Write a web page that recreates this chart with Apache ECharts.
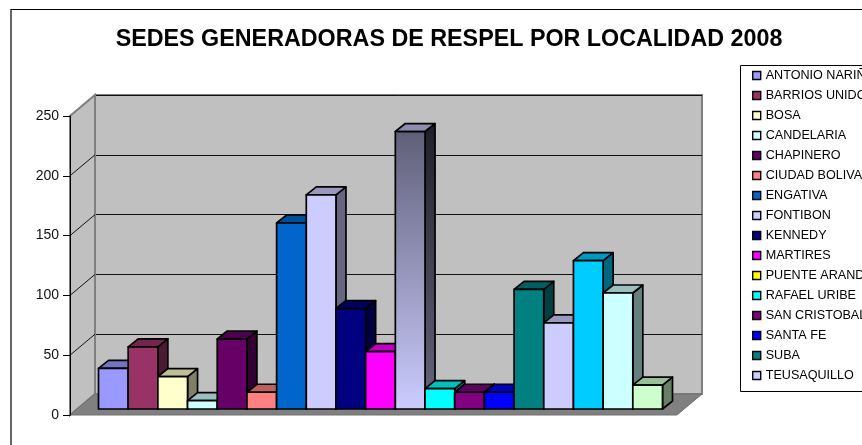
<!DOCTYPE html>
<html>
<head>
<meta charset="utf-8">
<style>html,body{margin:0;padding:0;background:#fff}#main{width:862px;height:445px}</style>
<script src="https://cdn.jsdelivr.net/npm/echarts@6/dist/echarts.min.js"></script>
</head>
<body>
<div id="main"></div>
<script>
var titleText = 'SEDES GENERADORAS DE RESPEL POR LOCALIDAD 2008';
// the legend in the picture is cut after TEUSAQUILLO, the last 3 bars have no entry
var localidades = ['ANTONIO NARIÑO', 'BARRIOS UNIDOS', 'BOSA', 'CANDELARIA', 'CHAPINERO', 'CIUDAD BOLIVAR', 'ENGATIVA', 'FONTIBON', 'KENNEDY', 'MARTIRES', 'PUENTE ARANDA', 'RAFAEL URIBE', 'SAN CRISTOBAL', 'SANTA FE', 'SUBA', 'TEUSAQUILLO', 'TUNJUELITO', 'USAQUEN', 'USME'];
var sedes = [34, 52, 27, 7, 58.5, 14, 155.5, 179, 84, 48, 232, 17, 14, 14, 100, 72, 124, 97, 20];
var colores = ['#9999ff', '#993366', '#ffffcc', '#ccffff', '#660066', '#ff8080', '#0066cc', '#ccccff', '#000080', '#ff00ff', '#ffff00', '#00ffff', '#800080', '#0000ff', '#008080', '#ccccff', '#00ccff', '#ccffff', '#ccffcc'];
var legendItems = localidades.slice(0, 16);
var yTicks = [0, 50, 100, 150, 200, 250];

var wallDepth = [25, -21];
var barDepth = [10, -8];
var PUENTE = 10;

var chart = echarts.init(document.getElementById('main'));

function shade(hex, f) {
  var n = parseInt(hex.slice(1), 16);
  var r = Math.round((n >> 16 & 255) * f);
  var g = Math.round((n >> 8 & 255) * f);
  var b = Math.round((n & 255) * f);
  return 'rgb(' + r + ',' + g + ',' + b + ')';
}

function vGrad(top, bottom) {
  return new echarts.graphic.LinearGradient(0, 0, 0, 1, [
    { offset: 0, color: top },
    { offset: 1, color: bottom }
  ]);
}

// one 3d box: front, top and side faces
function renderBar(params, api) {
  var i = api.value(0);
  var top = api.coord([i, api.value(1)]);
  var base = api.coord([i, 0]);
  var w = api.size([1, 0])[0];
  var l = top[0] - w / 2, r = top[0] + w / 2;
  var dx = barDepth[0], dy = barDepth[1];
  var c = colores[i];
  var front = c, topFace = shade(c, 0.75), side = shade(c, 0.5);
  if (i === PUENTE) {
    front = vGrad('#5f5f78', '#ccccff');
    topFace = '#8d8db0';
    side = vGrad('#1f1f28', '#66667f');
  }
  var line = { stroke: '#000', lineWidth: 1.7, lineJoin: 'round' };
  function face(pts, fill) {
    return { type: 'polygon', shape: { points: pts }, style: Object.assign({ fill: fill }, line) };
  }
  return {
    type: 'group',
    children: [
      face([[r, top[1]], [r + dx, top[1] + dy], [r + dx, base[1] + dy], [r, base[1]]], side),
      face([[l, top[1]], [l + dx, top[1] + dy], [r + dx, top[1] + dy], [r, top[1]]], topFace),
      face([[l, top[1]], [r, top[1]], [r, base[1]], [l, base[1]]], front)
    ]
  };
}

function renderSideWall(params, api) {
  var a = api.coord([0, 0]), b = api.coord([0, 250]);
  return {
    type: 'polygon',
    shape: { points: [a, b, [b[0] + wallDepth[0], b[1] + wallDepth[1]], [a[0] + wallDepth[0], a[1] + wallDepth[1]]] },
    style: { fill: '#c0c0c0', stroke: '#808080', lineWidth: 2 }
  };
}

function renderFloor(params, api) {
  var a = api.coord([0, 0]), b = api.coord([1, 0]);
  return {
    type: 'polygon',
    shape: { points: [a, b, [b[0] + wallDepth[0], b[1] + wallDepth[1]], [a[0] + wallDepth[0], a[1] + wallDepth[1]]] },
    style: { fill: '#808080', stroke: '#707070', lineWidth: 1 }
  };
}

// diagonal lines of the side wall
function renderTickLine(params, api) {
  var a = api.coord([0, api.value(0)]);
  return {
    type: 'line',
    shape: { x1: a[0], y1: a[1], x2: a[0] + wallDepth[0], y2: a[1] + wallDepth[1] },
    style: { stroke: '#111', lineWidth: 1 }
  };
}

var series = [
  { type: 'custom', xAxisIndex: 0, yAxisIndex: 0, renderItem: renderSideWall, data: [[0]], silent: true, clip: false, z: 1 },
  { type: 'custom', xAxisIndex: 0, yAxisIndex: 0, renderItem: renderFloor, data: [[0]], silent: true, clip: false, z: 1 },
  { type: 'custom', xAxisIndex: 0, yAxisIndex: 0, renderItem: renderTickLine, data: yTicks.slice(1, 5).map(function (t) { return [t]; }), silent: true, clip: false, z: 1 }
];

localidades.forEach(function (name, i) {
  series.push({
    type: 'custom',
    name: name,
    xAxisIndex: 2,
    yAxisIndex: 2,
    renderItem: renderBar,
    encode: { x: 0, y: 1 },
    itemStyle: { color: colores[i] },
    data: [[i, sedes[i]]],
    clip: false,
    z: 3 + i
  });
});

var option = {
  backgroundColor: '#fff',
  animation: false,
  title: {
    text: titleText,
    left: 444,
    top: 23,
    textAlign: 'center',
    textStyle: { fontFamily: 'Liberation Sans', fontSize: 23.3, fontWeight: 'bold', color: '#000' }
  },
  legend: {
    data: legendItems,
    orient: 'vertical',
    left: 740.5,
    top: 65.5,
    padding: [3, 30, 9, 11.5],
    itemWidth: 8,
    itemHeight: 8,
    itemGap: 6,
    icon: 'rect',
    selectedMode: false,
    borderColor: '#000',
    borderWidth: 1,
    itemStyle: { borderColor: '#000', borderWidth: 1.4 },
    textStyle: { fontFamily: 'Liberation Sans', fontSize: 12.6, color: '#000', lineHeight: 14, padding: [0, 0, 0, 0] }
  },
  graphic: [{
    type: 'rect',
    z: -1,
    silent: true,
    shape: { x: 11, y: 9.5, width: 900, height: 500 },
    style: { fill: 'none', stroke: '#000', lineWidth: 1.2 }
  }],
  grid: [
    // front plane with the y axis
    { left: 70, top: 116, width: 607, height: 299 },
    // back wall
    { left: 95, top: 95, width: 607, height: 299, show: true, backgroundColor: '#c0c0c0', borderColor: '#808080', borderWidth: 2 },
    // bars
    { left: 98.5, top: 110, width: 564, height: 299 }
  ],
  xAxis: [
    { gridIndex: 0, type: 'value', min: 0, max: 1, show: false },
    { gridIndex: 1, type: 'value', min: 0, max: 1, show: false },
    { gridIndex: 2, type: 'category', data: localidades, show: false }
  ],
  yAxis: [
    {
      gridIndex: 0, type: 'value', min: 0, max: 250, interval: 50,
      axisLine: { show: true, lineStyle: { color: '#000', width: 1 } },
      axisTick: { show: true, length: 7, lineStyle: { color: '#000' } },
      axisLabel: { fontFamily: 'Liberation Sans', fontSize: 14, color: '#111', margin: 11 },
      splitLine: { show: false },
      z: 6
    },
    {
      gridIndex: 1, type: 'value', min: 0, max: 250, interval: 50,
      axisLine: { show: false }, axisTick: { show: false }, axisLabel: { show: false },
      splitLine: { show: true, lineStyle: { color: '#111', width: 1 } }
    },
    { gridIndex: 2, type: 'value', min: 0, max: 250, show: false, splitLine: { show: false } }
  ],
  series: series
};

chart.setOption(option);
</script>
</body>
</html>
